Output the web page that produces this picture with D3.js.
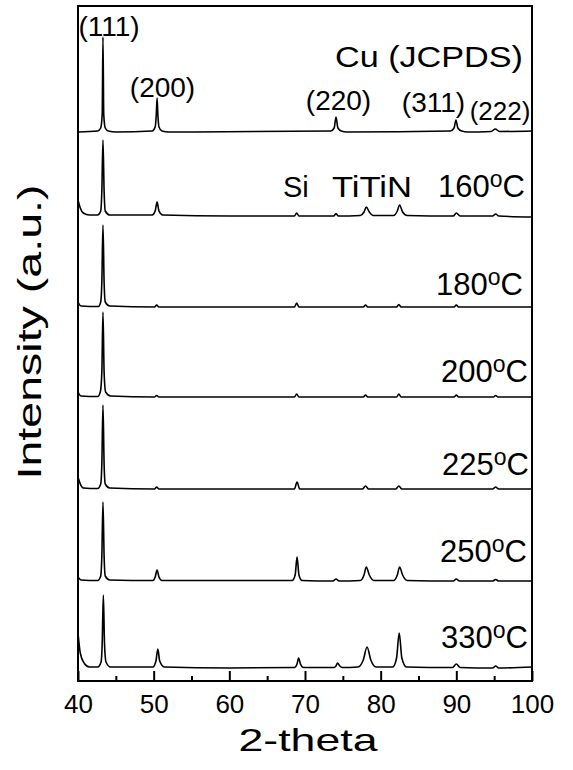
<!DOCTYPE html>
<html>
<head>
<meta charset="utf-8">
<script src="https://cdn.jsdelivr.net/npm/d3@7"></script>
<style>
  html, body { margin: 0; padding: 0; background: #fff; }
  text { font-family: "Liberation Sans", Arial, sans-serif; fill: #000; }
</style>
</head>
<body>
<div id="chart"></div>
<script>
const WIDTH = 573;
const HEIGHT = 770;

// 2-theta ticks
const majorTicks = [40, 50, 60, 70, 80, 90, 100];
const minorTicks = [45, 55, 65, 75, 85, 95];

// patterns, [2-theta, intensity above own baseline] (a.u.)
const cuRef = [[40,0],[42.6,1],[43.0,4],[43.2,18],[43.3,95],[43.4,18],[43.6,4],[44.0,1],[45,0],
  [49.8,1],[50.2,5],[50.35,18],[50.45,34],[50.55,18],[50.7,5],[51.1,1],[52,0],
  [73.4,1],[73.85,4],[74.1,15],[74.35,4],[74.8,1],[75.5,0],
  [89.2,1],[89.7,4],[89.95,12],[90.2,4],[90.7,1],[91.5,0],
  [94.6,0.5],[95.15,3],[95.7,0.5],[100,1]];
const t160 = [[40,16],[40.3,8],[40.7,3],[41.5,1],[42.6,1],[43.0,5],[43.15,25],[43.3,76],[43.45,25],[43.6,5],[44.2,1],
  [49.8,1],[50.2,5],[50.45,14],[50.7,5],[51.2,1],[60,0],[68.6,0],[68.9,3],[69.2,0],
  [73.8,0],[74.1,2.5],[74.4,0],[77.3,0.5],[77.8,4],[78.1,9],[78.5,4],[79.0,0.5],
  [81.7,0.5],[82.2,5],[82.5,11],[82.9,4],[83.5,0.5],[89.6,0],[90.0,3],[90.5,0],
  [94.8,0],[95.2,2],[95.6,0],[100,-1]];
const t180 = [[40,5],[40.4,1],[42.7,0.5],[43.0,5],[43.15,25],[43.3,82],[43.45,25],[43.6,5],[44.2,1],
  [50.1,0],[50.4,2],[50.7,0],[68.6,0],[68.9,4],[69.2,0],[77.7,0],[78.0,2],[78.3,0],
  [82.1,0],[82.4,2.5],[82.7,0],[89.7,0],[90.0,2],[90.3,0],[100,0]];
const t200 = [[40,5],[40.4,1],[42.6,0.5],[42.95,5],[43.15,25],[43.3,85],[43.45,25],[43.65,5],[44.3,1],
  [50.1,0],[50.4,1.5],[50.7,0],[68.6,0],[68.9,3],[69.2,0],[77.7,0],[78.0,2],[78.3,0],
  [82.1,0],[82.4,3],[82.7,0],[89.7,0],[90.0,2],[90.3,0],[94.9,0],[95.2,1.5],[95.5,0],[100,0]];
const t225 = [[40,12],[40.3,5],[40.7,1],[42.6,0.5],[43.0,5],[43.15,25],[43.3,84],[43.45,25],[43.6,5],[44.2,1],
  [50.1,0],[50.4,2],[50.7,0],[68.6,0],[68.95,7],[69.3,0],[77.6,0],[78.0,3],[78.4,0],
  [82.0,0],[82.4,3],[82.8,0],[94.8,0],[95.2,2],[95.6,0],[100,0]];
const t250 = [[40,4],[40.4,1],[42.6,0.5],[43.0,5],[43.15,25],[43.3,79],[43.45,25],[43.6,5],[44.2,1],
  [49.9,0.5],[50.2,4],[50.45,11],[50.7,4],[51.1,0.5],[68.3,0.5],[68.7,6],[68.95,24],[69.2,6],[69.6,0.5],
  [73.7,0],[74.1,2],[74.5,0],[77.3,0.5],[77.8,6],[78.1,14],[78.5,6],[79.1,0.5],
  [81.7,0.5],[82.2,6],[82.5,14],[82.9,6],[83.5,0.5],[89.6,0],[90.0,2],[90.4,0],
  [94.8,0],[95.2,1.5],[95.6,0],[100,0]];
const t330 = [[40,35],[40.3,15],[40.8,5],[41.5,1],[42.6,1],[43.05,6],[43.2,25],[43.35,73],[43.5,25],[43.7,6],[44.3,1],
  [49.9,1],[50.3,7],[50.55,19],[50.8,7],[51.4,1],[60,0],[68.6,0.5],[68.95,4],[69.15,10],[69.4,4],[69.8,0.5],
  [73.8,0.5],[74.1,2],[74.3,5],[74.6,2],[74.9,0.5],[77.0,1],[77.7,8],[78.2,21],[78.7,8],[79.4,1],
  [81.6,1],[82.1,10],[82.45,35],[82.8,10],[83.4,1],[89.5,0.5],[90.0,4],[90.5,0.5],
  [94.8,0],[95.2,2],[95.6,0],[100,1]];

const patterns = [cuRef, t160, t180, t200, t225, t250, t330];
const offsets = [549, 465, 374, 284, 192, 100, 13];

// temperature labels
const tempLabels = ["160", "180", "200", "225", "250", "330"];
const tempLabelEnd = [99.07, 98.81, 99.47, 99.6, 99.34, 99.47];
const tempLabelLift = [19, 12, 15, 14, 19, 20];

// Miller index labels for the Cu reference
const hklLabels = ["(111)", "(200)", "(220)", "(311)", "(222)"];
const hklX = [44.1, 51.17, 74.43, 86.98, 95.77];
const hklY = [645, 584, 571, 569, 561];

function main(){
    let svg = d3.select("#chart")
        .append("svg")
        .attr("width",WIDTH)
        .attr("height",HEIGHT);

    let x = d3.scaleLinear().domain([40,100]).range([78,532]);
    let y = d3.scaleLinear().domain([0,675]).range([681,6]);

    svg.append("defs").append("clipPath")
        .attr("id","plot")
        .append("rect")
        .attr("x",x(40)).attr("y",y(675))
        .attr("width",x(100)-x(40)).attr("height",y(0)-y(675));

    // curves
    let curves = svg.append("g").attr("clip-path","url(#plot)");
    patterns.forEach((p,i) => {
        let line = d3.line()
            .x(d => x(d[0]))
            .y(d => y(d[1]+offsets[i]))
            .curve(d3.curveMonotoneX);
        curves.append("path")
            .attr("d",line(p))
            .style("fill","none")
            .style("stroke","#000")
            .style("stroke-width",1.6)
            .style("stroke-linejoin","round");
    });

    // bottom axis, ticks pointing in
    let axis = svg.append("g")
        .attr("transform",`translate(0,${y(0)})`)
        .call(d3.axisBottom(x).tickValues(majorTicks).tickSizeInner(-10).tickSizeOuter(0).tickPadding(14));
    axis.select(".domain").remove();
    axis.selectAll("line").style("stroke","#000").style("stroke-width",2);
    axis.selectAll("text")
        .style("font-size","26px")
        .style("font-family","'Liberation Sans', Arial, sans-serif");

    let minor = svg.append("g")
        .attr("transform",`translate(0,${y(0)})`)
        .call(d3.axisBottom(x).tickValues(minorTicks).tickSizeInner(-5).tickSizeOuter(0).tickFormat(""));
    minor.select(".domain").remove();
    minor.selectAll("line").style("stroke","#000").style("stroke-width",2);

    // frame
    svg.append("rect")
        .attr("x",x(40)).attr("y",y(675))
        .attr("width",x(100)-x(40)).attr("height",y(0)-y(675))
        .style("fill","none")
        .style("stroke","#000")
        .style("stroke-width",2);

    // reference labels
    svg.selectAll(".hkl")
        .data(hklLabels)
        .enter()
        .append("text")
        .attr("class","hkl")
        .attr("x",(d,i) => x(hklX[i]))
        .attr("y",(d,i) => y(hklY[i]))
        .attr("text-anchor","middle")
        .style("font-size",(d,i) => i==4 ? "26px" : "28px")
        .text(d => d);

    svg.append("text")
        .attr("x",x(73.96)).attr("y",y(614))
        .attr("textLength",188).attr("lengthAdjust","spacingAndGlyphs")
        .style("font-size","29px")
        .text("Cu (JCPDS)");

    svg.append("text")
        .attr("x",x(67.09)).attr("y",y(484))
        .style("font-size","29px")
        .text("Si");
    svg.append("text")
        .attr("x",x(73.57)).attr("y",y(484))
        .attr("textLength",80).attr("lengthAdjust","spacingAndGlyphs")
        .style("font-size","30px")
        .text("TiTiN");

    // temperature labels
    tempLabels.forEach((t,i) => {
        let lbl = svg.append("text")
            .attr("x",x(tempLabelEnd[i]))
            .attr("y",y(offsets[i+1]+tempLabelLift[i]))
            .attr("text-anchor","end")
            .style("font-size","31px");
        lbl.append("tspan").text(t);
        lbl.append("tspan").attr("dy",-10).style("font-size","23px").text("o");
        lbl.append("tspan").attr("dy",10).text("C");
    });

    // axis titles
    svg.append("text")
        .attr("x",(x(40)+x(100))/2 + 3)
        .attr("y",751)
        .attr("text-anchor","middle")
        .attr("textLength",139).attr("lengthAdjust","spacingAndGlyphs")
        .style("font-size","32px")
        .text("2-theta");

    svg.append("text")
        .attr("transform",`translate(41,${332}) rotate(-90)`)
        .attr("text-anchor","middle")
        .attr("textLength",295).attr("lengthAdjust","spacingAndGlyphs")
        .style("font-size","33px")
        .text("Intensity (a.u.)");
}

window.addEventListener("load",main);
</script>
</body>
</html>
